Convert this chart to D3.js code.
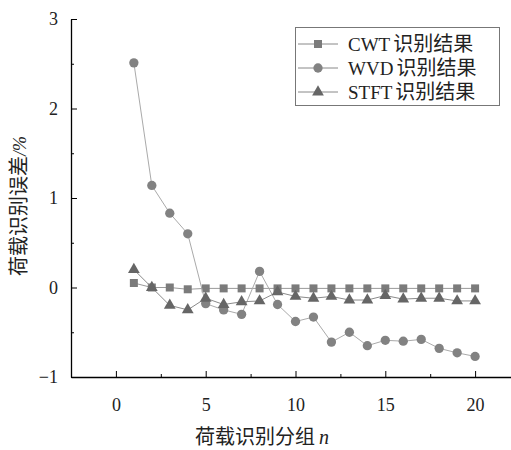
<!DOCTYPE html>
<html>
<head>
<meta charset="utf-8">
<script src="https://cdn.jsdelivr.net/npm/d3@7"></script>
<style>
  body { margin: 0; background: #fff; }
  svg { display: block; font-family: "Liberation Serif", "Noto Sans CJK SC", serif; }
</style>
</head>
<body>
<div id="chart"></div>
<script>
const groups = d3.range(1, 21);
const cwt = [0.05, 0, 0, -0.02, -0.01, -0.01, -0.01, -0.01, -0.01, -0.01,
  -0.01, -0.01, -0.01, -0.01, -0.01, -0.01, -0.01, -0.01, -0.01, -0.01];
const wvd = [2.51, 1.14, 0.83, 0.60, -0.18, -0.25, -0.30, 0.18, -0.19, -0.38,
  -0.33, -0.61, -0.50, -0.65, -0.59, -0.60, -0.58, -0.68, -0.73, -0.77];
const stft = [0.20, 0, -0.20, -0.25, -0.12, -0.19, -0.16, -0.15, -0.05, -0.10,
  -0.12, -0.10, -0.14, -0.14, -0.09, -0.13, -0.12, -0.12, -0.15, -0.15];
const xTicks = [0, 5, 10, 15, 20];
const yTicks = [-1, 0, 1, 2, 3];
const seriesCodes = ['CWT', 'WVD', 'STFT'];
const seriesSuffix = '识别结果';

const style = {
  series: [
    { symbol: d3.symbolSquare, size: 64, fill: '#7b7b7b', line: '#9a9a9a' },
    { symbol: d3.symbolCircle, size: 68, fill: '#828282', line: '#aaaaaa' },
    { symbol: d3.symbolTriangle, size: 60, fill: '#666666', line: '#8a8a8a' },
  ],
  axis: '#000',
  text: '#222',
  cjk: '"Noto Sans CJK SC", sans-serif',
};

const W = 511, H = 450;
const margin = { left: 71, top: 19 };
const x = d3.scaleLinear().domain([-2.5, 22.5]).range([margin.left, margin.left + 449]);
const y = d3.scaleLinear().domain([-1, 3]).range([377, margin.top]);

const svg = d3.select('#chart').append('svg')
  .attr('width', W)
  .attr('height', H);

// minor ticks
svg.append('g')
  .attr('transform', `translate(0, ${y(-1)})`)
  .call(d3.axisBottom(x).tickValues([2.5, 7.5, 12.5, 17.5]).tickSize(-3).tickFormat(''))
  .call((g) => g.select('.domain').remove());
svg.append('g')
  .attr('transform', `translate(${x(-2.5)}, 0)`)
  .call(d3.axisLeft(y).tickValues([-0.5, 0.5, 1.5, 2.5]).tickSize(-3).tickFormat(''))
  .call((g) => g.select('.domain').remove());

const xAxis = svg.append('g')
  .attr('transform', `translate(0, ${y(-1)})`)
  .call(d3.axisBottom(x).tickValues(xTicks).tickSize(-6).tickSizeOuter(0));
xAxis.select('.domain').attr('stroke-width', 1.3);
xAxis.selectAll('text')
  .attr('y', 28)
  .attr('dy', '0.32em')
  .attr('font-size', 18)
  .attr('font-family', '"Liberation Serif", serif')
  .attr('fill', style.text);

const yAxis = svg.append('g')
  .attr('transform', `translate(${x(-2.5)}, 0)`)
  .call(d3.axisLeft(y).tickValues(yTicks).tickSize(-6).tickSizeOuter(0)
    .tickFormat((d) => (d < 0 ? '\u2212' + Math.abs(d) : d)));
yAxis.select('.domain').attr('stroke-width', 1.3);
yAxis.selectAll('text')
  .attr('x', -13)
  .attr('dy', '0.32em')
  .attr('font-size', 18)
  .attr('font-family', '"Liberation Serif", serif')
  .attr('fill', style.text);
svg.selectAll('.tick line').attr('stroke', style.axis);

// series
[cwt, wvd, stft].forEach((vals, i) => {
  const s = style.series[i];
  const pts = vals.map((v, j) => [groups[j], v]);
  svg.append('path')
    .attr('d', d3.line().x((d) => x(d[0])).y((d) => y(d[1]))(pts))
    .attr('fill', 'none')
    .attr('stroke', s.line)
    .attr('stroke-width', 1);
  svg.append('g').selectAll('path')
    .data(pts).enter().append('path')
    .attr('transform', (d) => `translate(${x(d[0])}, ${y(d[1])})`)
    .attr('d', d3.symbol().type(s.symbol).size(s.size))
    .attr('fill', s.fill);
});

// legend
const legend = svg.append('g');
legend.append('rect')
  .attr('x', 295.5).attr('y', 27.5)
  .attr('width', 204).attr('height', 78)
  .attr('fill', '#fff')
  .attr('stroke', '#777');
seriesCodes.forEach((code, i) => {
  const s = style.series[i];
  const ly = 44 + i * 24;
  legend.append('line')
    .attr('x1', 298).attr('x2', 338)
    .attr('y1', ly).attr('y2', ly)
    .attr('stroke', '#888');
  legend.append('path')
    .attr('transform', `translate(318, ${ly})`)
    .attr('d', d3.symbol().type(s.symbol).size(s.size))
    .attr('fill', s.fill);
  const t = legend.append('text')
    .attr('x', 348).attr('y', ly)
    .attr('dy', '0.35em')
    .attr('font-size', 19)
    .attr('fill', style.text);
  t.append('tspan').text(code);
  t.append('tspan')
    .attr('dx', 3)
    .attr('font-family', style.cjk)
    .attr('font-size', 20)
    .text(seriesSuffix);
});

// axis titles
const yt = svg.append('text')
  .attr('transform', 'translate(19, 206) rotate(-90)')
  .attr('text-anchor', 'middle')
  .attr('dy', '0.35em')
  .attr('font-size', 20)
  .attr('fill', style.text);
yt.append('tspan').attr('font-family', style.cjk).text('荷载识别误差');
yt.append('tspan').attr('font-style', 'italic').attr('font-size', 18).text('/%');

const xt = svg.append('text')
  .attr('x', 262).attr('y', 437)
  .attr('text-anchor', 'middle')
  .attr('dy', '0.35em')
  .attr('font-size', 20)
  .attr('fill', style.text);
xt.append('tspan').attr('font-family', style.cjk).text('荷载识别分组');
xt.append('tspan').attr('dx', 4).attr('font-style', 'italic').text('n');
</script>
</body>
</html>
